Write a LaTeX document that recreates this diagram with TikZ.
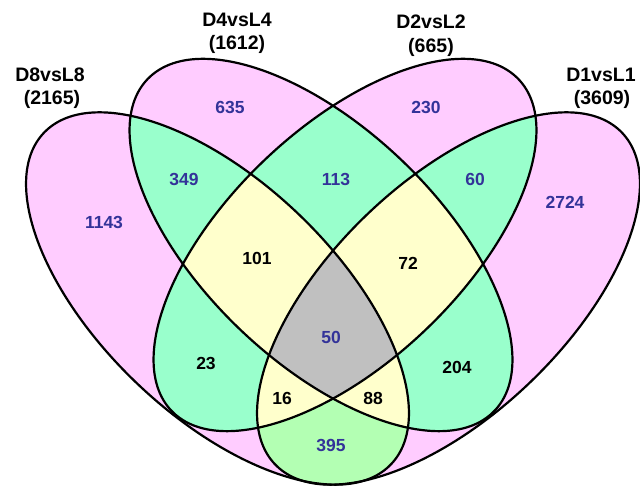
\documentclass[tikz,border=0pt]{standalone}
\usepackage{fontspec}
\setmainfont{Liberation Sans}
\definecolor{pinkc}{HTML}{FFCCFF}
\definecolor{mintc}{HTML}{99FFCC}
\definecolor{leafc}{HTML}{B3FFB3}
\definecolor{creamc}{HTML}{FFFFCC}
\definecolor{greyc}{HTML}{C0C0C0}
\definecolor{numblue}{HTML}{333399}
\tikzset{
  eA/.style={insert path={(217.5,187.5) ellipse [x radius=240pt, y radius=117pt, rotate=136.3]}},
  eB/.style={insert path={(321,241) ellipse [x radius=240pt, y radius=117pt, rotate=136.3]}},
  eC/.style={insert path={(345,241) ellipse [x radius=240pt, y radius=117pt, rotate=43.7]}},
  eD/.style={insert path={(448.5,187.5) ellipse [x radius=240pt, y radius=117pt, rotate=43.7]}},
  setname/.style={font=\bfseries\fontsize{19.5}{21}\selectfont, inner sep=0pt},
  cnt/.style={font=\bfseries\fontsize{17.5}{19}\selectfont, inner sep=0pt},
  cntb/.style={cnt, text=numblue},
  outline/.style={draw=black, line width=2.2pt}
}
\begin{document}
\begin{tikzpicture}[x=1pt, y=1pt]
\useasboundingbox (0,0) rectangle (640,486);
% single sets
\fill[pinkc] [eA];
\fill[pinkc] [eB];
\fill[pinkc] [eC];
\fill[pinkc] [eD];
% pairwise overlaps
\begin{scope}\clip [eA]; \fill[mintc] [eB]; \fill[mintc] [eC]; \fill[leafc] [eD]; \end{scope}
\begin{scope}\clip [eB]; \fill[mintc] [eC]; \fill[mintc] [eD]; \end{scope}
\begin{scope}\clip [eC]; \fill[mintc] [eD]; \end{scope}
% triple overlaps
\begin{scope}\clip [eA]; \clip [eB]; \fill[creamc] [eC]; \fill[creamc] [eD]; \end{scope}
\begin{scope}\clip [eA]; \clip [eC]; \fill[creamc] [eD]; \end{scope}
\begin{scope}\clip [eB]; \clip [eC]; \fill[creamc] [eD]; \end{scope}
% all four
\begin{scope}\clip [eA]; \clip [eB]; \clip [eC]; \fill[greyc] [eD]; \end{scope}
% outlines
\path[outline] [eA];
\path[outline] [eB];
\path[outline] [eC];
\path[outline] [eD];
% set labels
\node[setname] (n8) at (50,411) {D8vsL8};
\node[setname] (s8) at (52,387) {(2165)};
\node[setname] (n4) at (237,466) {D4vsL4};
\node[setname] (s4) at (237,442) {(1612)};
\node[setname] (n2) at (431,464) {D2vsL2};
\node[setname] (s2) at (431,439) {(665)};
\node[setname] (n1) at (601,411) {D1vsL1};
\node[setname] (s1) at (602,387) {(3609)};
% region counts
\node[cntb] (r635) at (230,379) {635};
\node[cntb] (r230) at (426,379) {230};
\node[cntb] (r349) at (184,307) {349};
\node[cntb] (r113) at (336,307) {113};
\node[cntb] (r60) at (475,307) {60};
\node[cntb] (r1143) at (104,264) {1143};
\node[cntb] (r2724) at (565,284) {2724};
\node[cnt] (r101) at (257,228) {101};
\node[cnt] (r72) at (408,223) {72};
\node[cntb] (r50) at (331,149) {50};
\node[cnt] (r23) at (206,123) {23};
\node[cnt] (r204) at (457,119) {204};
\node[cnt] (r16) at (282,88) {16};
\node[cnt] (r88) at (373,88) {88};
\node[cntb] (r395) at (331,41) {395};
\end{tikzpicture}
\end{document}
